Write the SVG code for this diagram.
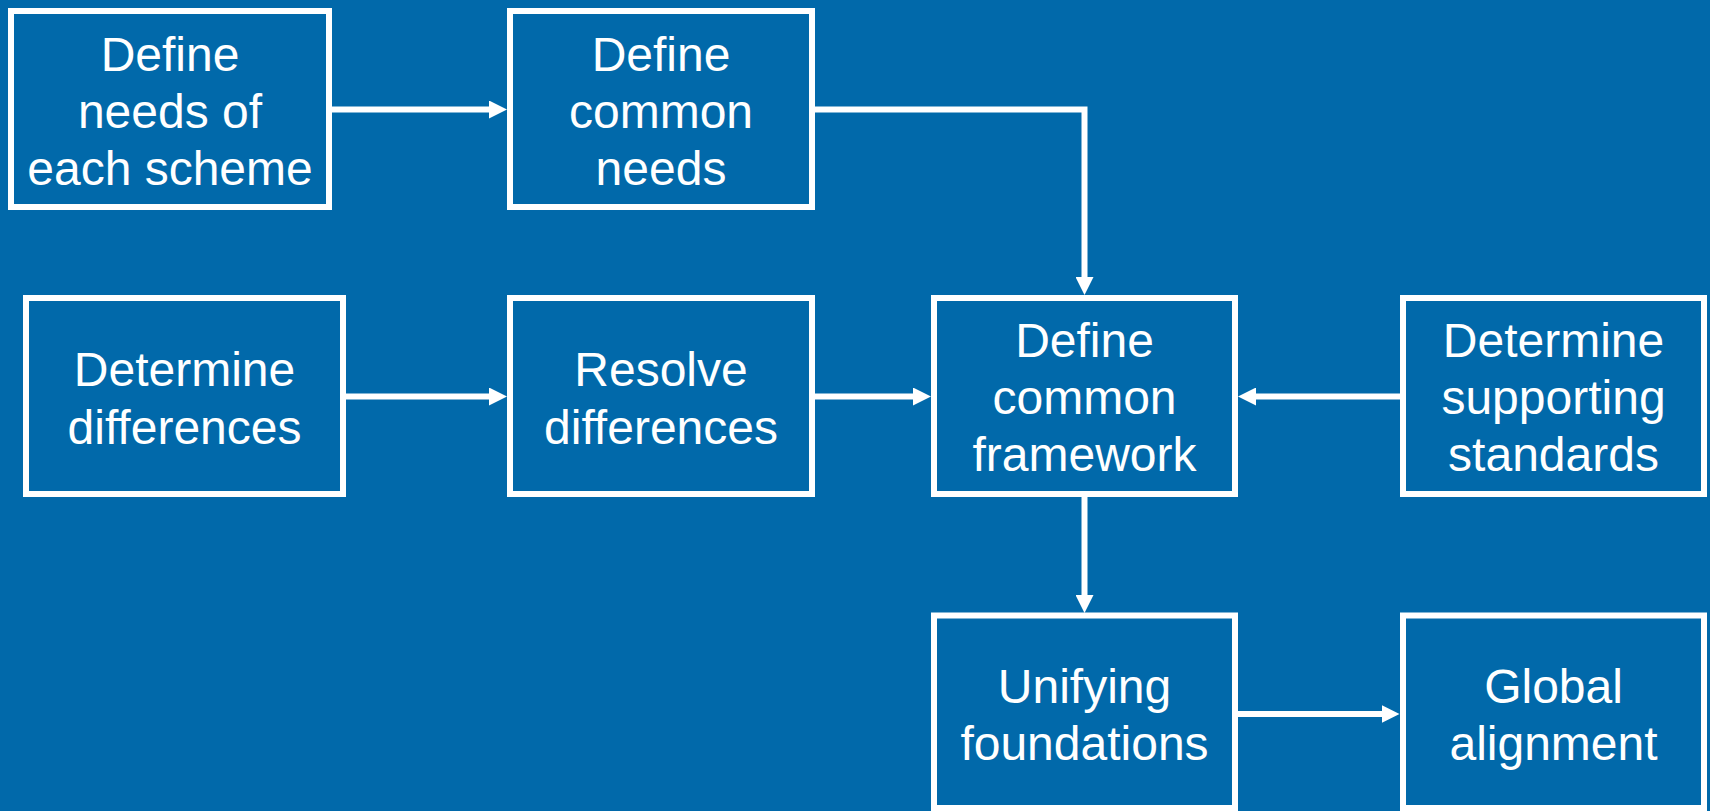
<svg xmlns="http://www.w3.org/2000/svg" width="1710" height="811" viewBox="0 0 1710 811">
<style>
.box{fill:none;stroke:#ffffff;stroke-width:6}
.lbl{font-family:"Liberation Sans",Arial,sans-serif;font-size:48px;fill:#ffffff;text-anchor:middle}
.conn{fill:none;stroke:#ffffff;stroke-width:6}
</style>
<defs>
<marker id="ah" markerUnits="userSpaceOnUse" markerWidth="18" markerHeight="18" refX="2" refY="9" orient="auto">
<path d="M0,0 L18,9 L0,18 z" fill="#ffffff"/>
</marker>
</defs>
<rect width="1710" height="811" fill="#0169aa"/>
<g id="connectors">
<path class="conn" d="M332,109.5 H491" marker-end="url(#ah)"/>
<path class="conn" d="M815,109.5 H1084.5 V279" marker-end="url(#ah)"/>
<path class="conn" d="M346,396.5 H491" marker-end="url(#ah)"/>
<path class="conn" d="M815,396.5 H915" marker-end="url(#ah)"/>
<path class="conn" d="M1400,396.5 H1254" marker-end="url(#ah)"/>
<path class="conn" d="M1084.5,497 V597" marker-end="url(#ah)"/>
<path class="conn" d="M1238,714 H1383.5" marker-end="url(#ah)"/>
</g>
<g id="n1">
<rect class="box" x="11" y="11" width="318" height="196"/>
<text class="lbl" x="170" y="70.5">Define</text>
<text class="lbl" x="170" y="127.5">needs of</text>
<text class="lbl" x="170" y="184.5">each scheme</text>
</g>
<g id="n2">
<rect class="box" x="510" y="11" width="302" height="196"/>
<text class="lbl" x="661" y="70.5">Define</text>
<text class="lbl" x="661" y="127.5">common</text>
<text class="lbl" x="661" y="184.5">needs</text>
</g>
<g id="n3">
<rect class="box" x="26" y="298" width="317" height="196"/>
<text class="lbl" x="184.5" y="386">Determine</text>
<text class="lbl" x="184.5" y="443.5">differences</text>
</g>
<g id="n4">
<rect class="box" x="510" y="298" width="302" height="196"/>
<text class="lbl" x="661" y="386">Resolve</text>
<text class="lbl" x="661" y="443.5">differences</text>
</g>
<g id="n5">
<rect class="box" x="934" y="298" width="301" height="196"/>
<text class="lbl" x="1084.5" y="356.5">Define</text>
<text class="lbl" x="1084.5" y="414">common</text>
<text class="lbl" x="1084.5" y="471">framework</text>
</g>
<g id="n6">
<rect class="box" x="1403" y="298" width="301" height="196"/>
<text class="lbl" x="1553.5" y="356.5">Determine</text>
<text class="lbl" x="1553.5" y="414">supporting</text>
<text class="lbl" x="1553.5" y="471">standards</text>
</g>
<g id="n7">
<rect class="box" x="934" y="615.5" width="301" height="192.5"/>
<text class="lbl" x="1084.5" y="702.5">Unifying</text>
<text class="lbl" x="1084.5" y="759.5">foundations</text>
</g>
<g id="n8">
<rect class="box" x="1403" y="615.5" width="301" height="192.5"/>
<text class="lbl" x="1553.5" y="702.5">Global</text>
<text class="lbl" x="1553.5" y="759.5">alignment</text>
</g>
</svg>
